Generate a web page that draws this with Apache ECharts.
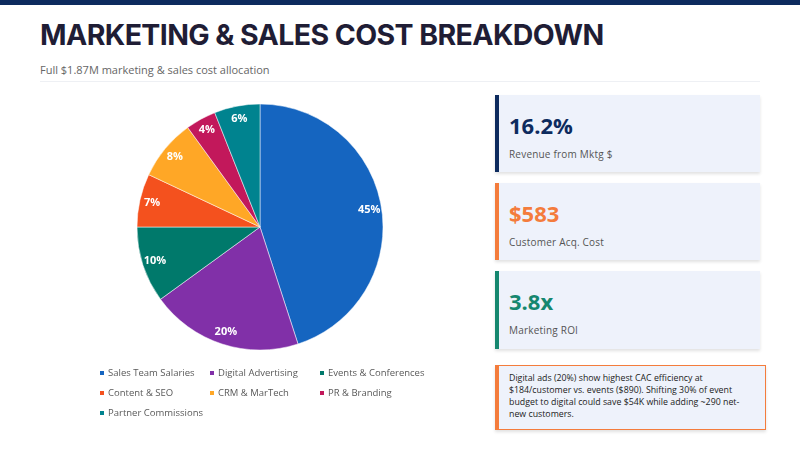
<!DOCTYPE html>
<html>
<head>
<meta charset="utf-8">
<script src="https://cdn.jsdelivr.net/npm/echarts@6/dist/echarts.min.js"></script>
<style>
  html, body { margin: 0; padding: 0; width: 800px; height: 450px; overflow: hidden; background: #ffffff; }
  .topbar { position: absolute; left: 0; top: 0; width: 800px; height: 5px; background: #0d2b5e; }
  .title { position: absolute; left: 40px; top: 17px; font-family: Inter, sans-serif; font-weight: 700; font-size: 28.5px; color: #1f1d35; letter-spacing: -0.6px; white-space: nowrap; }
  .subtitle { position: absolute; left: 40px; top: 62px; font-family: "Open Sans", sans-serif; font-size: 11px; color: #666; }
  .rule { position: absolute; left: 40px; top: 81px; width: 720px; height: 1px; background: #eef0f4; }
  #chart { position: absolute; left: 0; top: 0; width: 480px; height: 450px; }
  .card { position: absolute; left: 495px; width: 261px; background: #eef2fb; border-left: 4px solid; box-shadow: 0 2px 3px rgba(0,0,0,0.12); font-family: "Open Sans", sans-serif; }
  .card .num { position: absolute; left: 10px; top: 15px; font-size: 22px; font-weight: 700; }
  .card .lbl { position: absolute; left: 10px; top: 52px; font-size: 10px; color: #555; letter-spacing: 0.2px; }
  .insight { position: absolute; left: 495px; top: 365px; width: 250px; height: 51px; padding: 6px 6px 6px 10px; background: #eef2fb; border: 1px solid #f47c3c; border-left: 4px solid #f47c3c; box-shadow: 0 2px 3px rgba(0,0,0,0.12); font-family: "Open Sans", sans-serif; font-size: 8.8px; line-height: 12px; color: #222; white-space: nowrap; }
</style>
</head>
<body>
<div class="topbar"></div>
<div class="title">MARKETING &amp; SALES COST BREAKDOWN</div>
<div class="subtitle">Full $1.87M marketing &amp; sales cost allocation</div>
<div class="rule"></div>
<div id="chart"></div>

<div class="card" style="top:95px;height:77px;border-color:#0d2b5e;">
  <div class="num" style="color:#0d2b5e;">16.2%</div>
  <div class="lbl">Revenue from Mktg $</div>
</div>
<div class="card" style="top:183px;height:77px;border-color:#f47c3c;">
  <div class="num" style="color:#f47c3c;">$583</div>
  <div class="lbl">Customer Acq. Cost</div>
</div>
<div class="card" style="top:271px;height:78px;border-color:#15876f;">
  <div class="num" style="color:#15876f;">3.8x</div>
  <div class="lbl">Marketing ROI</div>
</div>
<div class="insight">Digital ads (20%) show highest CAC efficiency at<br>$184/customer vs. events ($890). Shifting 30% of event<br>budget to digital could save $54K while adding ~290 net-<br>new customers.</div>

<script>
// cost categories and their share (%)
var categories = ['Sales Team Salaries', 'Digital Advertising', 'Events & Conferences', 'Content & SEO', 'CRM & MarTech', 'PR & Branding', 'Partner Commissions'];
var shares = [45, 20, 10, 7, 8, 4, 6];
var colors = ['#1565c0', '#8130a8', '#00796b', '#f4511e', '#ffa726', '#c2185b', '#00838f'];

var myChart = echarts.init(document.getElementById('chart'));

var pieData = categories.map(function (name, i) {
    return { name: name, value: shares[i], itemStyle: { color: colors[i] } };
});
var labelData = categories.map(function (name, i) {
    return { name: name, value: shares[i] };
});

var legendFont = { fontFamily: 'Open Sans', fontSize: 9.5, color: '#595959', lineHeight: 12, padding: [0, 0, 0, -2] };
function makeLegend(names, left) {
    return {
        orient: 'vertical', left: left, top: 367, padding: 0,
        itemWidth: 6, itemHeight: 6, itemGap: 8, icon: 'rect',
        selectedMode: false, data: names, textStyle: legendFont
    };
}

var option = {
    animation: false,
    legend: [
        makeLegend(['Sales Team Salaries', 'Content & SEO', 'Partner Commissions'], 98),
        makeLegend(['Digital Advertising', 'CRM & MarTech'], 208),
        makeLegend(['Events & Conferences', 'PR & Branding'], 318)
    ],
    series: [{
        type: 'pie',
        center: [260, 227],
        radius: [0, 123],
        startAngle: 90,
        clockwise: true,
        label: { show: false },
        labelLine: { show: false },
        itemStyle: { borderColor: '#ffffff', borderWidth: 0.5 },
        data: pieData
    }, {
        // ring only used to place the % labels near the rim
        type: 'pie',
        center: [260, 227],
        radius: [92, 123],
        startAngle: 90,
        clockwise: true,
        silent: true,
        itemStyle: { color: 'transparent' },
        label: {
            show: true, position: 'inside', formatter: '{c}%',
            color: '#ffffff', fontFamily: 'Open Sans', fontWeight: 'bold', fontSize: 11
        },
        labelLine: { show: false },
        data: labelData
    }]
};
myChart.setOption(option);
</script>
</body>
</html>
